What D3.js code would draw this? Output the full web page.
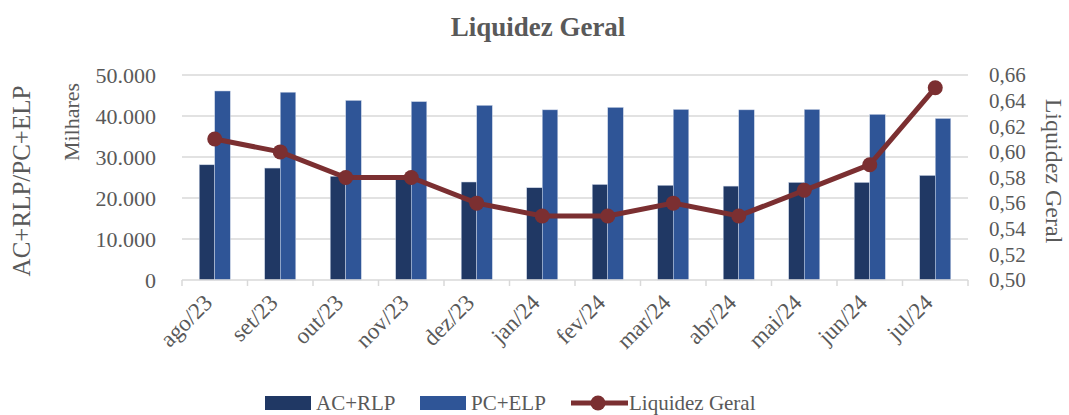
<!DOCTYPE html>
<html>
<head>
<meta charset="utf-8">
<script src="https://cdn.jsdelivr.net/npm/d3@7"></script>
<style>
  body { margin: 0; background: #fff; }
  svg text { font-family: "Liberation Serif", "DejaVu Serif", serif; fill: #595959; }
</style>
</head>
<body>
<div id="chart"></div>
<script>
var months = ["ago/23","set/23","out/23","nov/23","dez/23","jan/24","fev/24","mar/24","abr/24","mai/24","jun/24","jul/24"];
var acRlp = [28100,27300,25300,25000,23900,22500,23300,23100,22900,23800,23800,25500];
var pcElp = [46100,45800,43800,43500,42600,41500,42100,41600,41500,41600,40400,39400];
var liquidez = [0.61,0.60,0.58,0.58,0.56,0.55,0.55,0.56,0.55,0.57,0.59,0.65];
var leftTicks = [0,10000,20000,30000,40000,50000];
var rightTicks = [0.50,0.52,0.54,0.56,0.58,0.60,0.62,0.64,0.66];

var width = 1069, height = 415;
var m = {left: 182, right: 101, top: 75, bottom: 135};
var w = width - m.left - m.right, h = height - m.top - m.bottom;

var svg = d3.select("#chart").append("svg")
  .attr("width", width).attr("height", height)
  .attr("font-family", "Liberation Serif, serif");

var g = svg.append("g").attr("transform", "translate(" + m.left + "," + m.top + ")");

var x = d3.scaleBand().domain(months).range([0, w]);
var y = d3.scaleLinear().domain([0, 50000]).range([h, 0]);
var y2 = d3.scaleLinear().domain([0.50, 0.66]).range([h, 0]);
var fmt = d3.formatLocale({decimal: ",", thousands: ".", grouping: [3], currency: ["R$", ""]});

// grid
g.selectAll(".grid").data(leftTicks.slice(1)).enter().append("line")
  .attr("x1", 0).attr("x2", w)
  .attr("y1", d => y(d)).attr("y2", d => y(d))
  .attr("stroke", "#d9d9d9").attr("stroke-width", 1.5);

// bars
var bw = x.bandwidth() * 0.237;
g.selectAll(".ac").data(months).enter().append("rect")
  .attr("x", d => x(d) + x.bandwidth() / 2 - bw)
  .attr("y", (d, i) => y(acRlp[i]))
  .attr("width", bw).attr("height", (d, i) => h - y(acRlp[i]))
  .attr("fill", "#203864").attr("stroke", "#c9d3e6").attr("stroke-width", 0.5);
g.selectAll(".pc").data(months).enter().append("rect")
  .attr("x", d => x(d) + x.bandwidth() / 2)
  .attr("y", (d, i) => y(pcElp[i]))
  .attr("width", bw).attr("height", (d, i) => h - y(pcElp[i]))
  .attr("fill", "#2f5597").attr("stroke", "#c9d3e6").attr("stroke-width", 0.5);

// x axis
g.append("line").attr("x1", 0).attr("x2", w).attr("y1", h).attr("y2", h)
  .attr("stroke", "#d9d9d9").attr("stroke-width", 1.5);
g.selectAll(".xt").data(months.concat(["end"])).enter().append("line")
  .attr("x1", (d, i) => i * x.step()).attr("x2", (d, i) => i * x.step())
  .attr("y1", h).attr("y2", h + 6)
  .attr("stroke", "#d9d9d9").attr("stroke-width", 1.5);
g.selectAll(".xl").data(months).enter().append("text")
  .attr("transform", d => "translate(" + (x(d) + x.bandwidth() / 2 - 1) + "," + (h + 24) + ") rotate(-45)")
  .attr("text-anchor", "end")
  .style("font-size", "23px")
  .text(d => d);

// left ticks
g.selectAll(".yl").data(leftTicks).enter().append("text")
  .attr("x", -26).attr("y", d => y(d)).attr("dy", "0.35em")
  .attr("text-anchor", "end").style("font-size", "22px")
  .text(d => fmt.format(",")(d));

// right ticks
g.selectAll(".yr").data(rightTicks).enter().append("text")
  .attr("x", w + 21).attr("y", d => y2(d)).attr("dy", "0.35em")
  .attr("text-anchor", "start").style("font-size", "21px")
  .text(d => d3.format(".2f")(d).replace(".", ","));

// line
var line = d3.line().x((d, i) => x(months[i]) + x.bandwidth() / 2).y(d => y2(d));
g.append("path").datum(liquidez).attr("d", line)
  .attr("fill", "none").attr("stroke", "#7b2f31").attr("stroke-width", 5);
g.selectAll(".pt").data(liquidez).enter().append("circle")
  .attr("cx", (d, i) => x(months[i]) + x.bandwidth() / 2).attr("cy", d => y2(d))
  .attr("r", 7.5).attr("fill", "#7b2f31");

// titles
svg.append("text").attr("x", 538).attr("y", 36).attr("text-anchor", "middle")
  .style("font-size", "27px").style("font-weight", "bold").text("Liquidez Geral");
svg.append("text").attr("transform", "translate(30,181) rotate(-90)")
  .attr("text-anchor", "middle").style("font-size", "25px").text("AC+RLP/PC+ELP");
svg.append("text").attr("transform", "translate(79,122) rotate(-90)")
  .attr("text-anchor", "middle").style("font-size", "22px").text("Milhares");
svg.append("text").attr("transform", "translate(1046,171) rotate(90)")
  .attr("text-anchor", "middle").style("font-size", "24px").text("Liquidez Geral");

// legend
var lg = svg.append("g").attr("transform", "translate(0,403)");
lg.append("rect").attr("x", 265).attr("y", -7).attr("width", 46).attr("height", 14).attr("fill", "#203864");
lg.append("text").attr("x", 316).attr("y", 0).attr("dy", "0.35em").style("font-size", "21px").text("AC+RLP");
lg.append("rect").attr("x", 420).attr("y", -7).attr("width", 46).attr("height", 14).attr("fill", "#2f5597");
lg.append("text").attr("x", 471).attr("y", 0).attr("dy", "0.35em").style("font-size", "21px").text("PC+ELP");
lg.append("line").attr("x1", 571).attr("x2", 628).attr("y1", 0).attr("y2", 0)
  .attr("stroke", "#7b2f31").attr("stroke-width", 5);
lg.append("circle").attr("cx", 598).attr("cy", 0).attr("r", 7.5).attr("fill", "#7b2f31");
lg.append("text").attr("x", 629).attr("y", 0).attr("dy", "0.35em").style("font-size", "21px").text("Liquidez Geral");
</script>
</body>
</html>
